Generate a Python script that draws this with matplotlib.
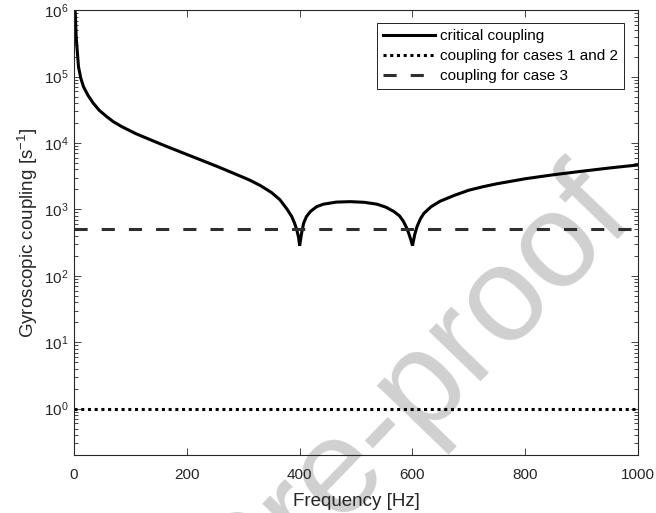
import numpy as np
import matplotlib
matplotlib.use("Agg")
import matplotlib.pyplot as plt
from matplotlib.ticker import LogLocator, NullFormatter

# --- data ---
freq_hz = [1, 2, 4, 8, 12, 17, 25, 34, 45, 58, 70, 85, 110, 140, 164, 195,
           224, 255, 283, 310, 330, 350, 365, 378, 386, 391, 395, 398, 400,
           403, 407, 412, 419, 430, 442, 465, 490, 515, 537, 553, 567, 577,
           584, 590, 594, 597, 600, 604, 608, 614, 620, 633, 649, 675, 700,
           725, 750, 800, 850, 900, 950, 1000]
critical = [2.5e6, 1.0e6, 3.8e5, 1.4e5, 9.5e4, 7.0e4, 5.2e4, 4.0e4, 3.1e4,
            2.5e4, 2.09e4, 1.76e4, 1.38e4, 1.08e4, 8.9e3, 7.0e3, 5.6e3,
            4.4e3, 3.5e3, 2.8e3, 2.3e3, 1.8e3, 1.4e3, 1.0e3, 780, 620, 490,
            380, 285, 420, 620, 780, 930, 1100, 1200, 1290, 1310, 1280, 1200,
            1080, 930, 800, 660, 520, 420, 350, 285, 420, 550, 720, 870, 1100,
            1330, 1640, 1950, 2200, 2440, 2900, 3330, 3760, 4220, 4680]
freq_range = [0, 1000]
coupling_cases_12 = [1.0, 1.0]
coupling_case_3 = [500.0, 500.0]

labels = ["critical coupling", "coupling for cases 1 and 2", "coupling for case 3"]

plt.rcParams["font.family"] = ["Liberation Sans", "DejaVu Sans"]
plt.rcParams["mathtext.fontset"] = "custom"
plt.rcParams["mathtext.rm"] = "Liberation Sans"
plt.rcParams["mathtext.it"] = "Liberation Sans:italic"
plt.rcParams["mathtext.default"] = "regular"

axis_col = "#262626"

fig = plt.figure(figsize=(6.56, 5.13), dpi=100)
ax = fig.add_axes([0.1128, 0.113, 0.86, 0.867])
ax.set_facecolor("none")

# watermark behind everything
fig.text(0.970, 0.571, "Journal Pre-proof", fontsize=97, color="#d0d0d0",
         rotation=46, rotation_mode="anchor", ha="right", va="baseline",
         zorder=-5)

ax.plot(freq_hz, critical, color="black", lw=2.2, label=labels[0],
        solid_joinstyle="miter")
ax.plot(freq_range, coupling_cases_12, color="black", lw=2.2,
        dashes=(1.0, 1.2), dash_capstyle="butt", label=labels[1])
ax.plot(freq_range, coupling_case_3, color="#2e2e2e", lw=2.2,
        dashes=(4.3, 4.6), dash_capstyle="butt", label=labels[2])

ax.set_yscale("log")
ax.set_xlim(0, 1000)
ax.set_ylim(0.2, 1e6)
ax.set_xticks([0, 200, 400, 600, 800, 1000])
ax.yaxis.set_major_locator(LogLocator(base=10, numticks=20))
ax.yaxis.set_minor_locator(LogLocator(base=10, subs=np.arange(2, 10), numticks=20))
ax.yaxis.set_minor_formatter(NullFormatter())

ax.tick_params(which="both", direction="in", top=True, right=True,
               color=axis_col, labelcolor=axis_col, width=0.6)
ax.tick_params(axis="x", which="major", length=5, pad=9, labelsize=11)
ax.tick_params(axis="y", which="major", length=5, pad=4, labelsize=11)
ax.tick_params(axis="y", which="minor", length=3)
for sp in ax.spines.values():
    sp.set_color(axis_col)
    sp.set_linewidth(0.8)

ax.set_xlabel("Frequency [Hz]", fontsize=13.5, color=axis_col, labelpad=8)
ax.set_ylabel("Gyroscopic coupling [s$^{-1}$]", fontsize=13.5, color=axis_col,
              labelpad=3)

leg = ax.legend(loc="upper right", bbox_to_anchor=(0.975, 0.971),
                borderaxespad=0, fontsize=11, fancybox=False, framealpha=1,
                edgecolor="black", handlelength=3.4, handletextpad=0.35,
                labelspacing=0.38, borderpad=0.4)
leg.get_frame().set_linewidth(0.6)

fig.savefig("out.png", dpi=100)
